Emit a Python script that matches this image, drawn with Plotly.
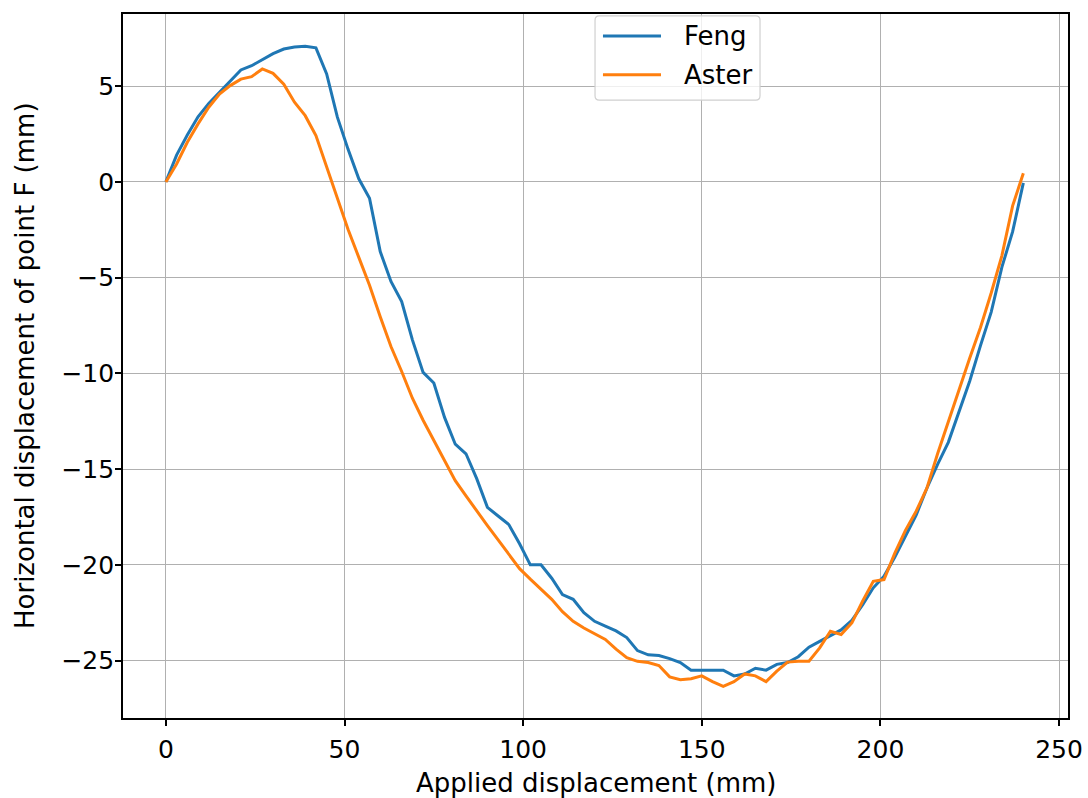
import plotly.graph_objects as go

applied = [i * 3 for i in range(81)]

feng = [0.0, 1.4, 2.45, 3.4, 4.1, 4.7, 5.25, 5.85, 6.07, 6.38, 6.7, 6.94,
        7.05, 7.08, 7.0, 5.64, 3.38, 1.7, 0.16, -0.85, -3.64, -5.2, -6.25, -8.25,
        -9.95, -10.5, -12.3, -13.7, -14.2, -15.5, -17.0, -17.45, -17.9, -18.9, -20.0, -20.0,
        -20.7, -21.55, -21.8, -22.5, -22.95, -23.2, -23.45, -23.8, -24.48, -24.7, -24.74, -24.9,
        -25.1, -25.5, -25.5, -25.5, -25.5, -25.8, -25.7, -25.4, -25.5, -25.2, -25.1, -24.8,
        -24.3, -24.0, -23.7, -23.4, -22.9, -22.1, -21.2, -20.6, -19.6, -18.5, -17.4, -16.0,
        -14.75, -13.6, -12.05, -10.4, -8.55, -6.8, -4.45, -2.6, -0.05]

aster = [0.0, 0.94, 2.07, 3.03, 3.9, 4.59, 5.03, 5.37, 5.5, 5.9, 5.67, 5.1,
         4.16, 3.46, 2.42, 0.8, -0.82, -2.49, -3.94, -5.4, -7.04, -8.6, -9.9, -11.3,
         -12.45, -13.5, -14.6, -15.6, -16.4, -17.2, -17.95, -18.7, -19.45, -20.2, -20.75, -21.3,
         -21.8, -22.45, -22.95, -23.3, -23.6, -23.9, -24.4, -24.85, -25.04, -25.1, -25.26, -25.85,
         -26.0, -25.95, -25.8, -26.1, -26.35, -26.1, -25.7, -25.8, -26.1, -25.55, -25.08, -25.03,
         -25.03, -24.34, -23.47, -23.64, -23.03, -21.9, -20.86, -20.77, -19.4, -18.2, -17.2, -16.0,
         -14.2, -12.5, -10.85, -9.2, -7.6, -5.8, -3.85, -1.25, 0.45]

series_names = ["Feng", "Aster"]
series_colors = ["#1f77b4", "#ff7f0e"]
x_ticks = [0, 50, 100, 150, 200, 250]
y_ticks = [5, 0, -5, -10, -15, -20, -25]
x_title = "Applied displacement (mm)"
y_title = "Horizontal displacement of point F (mm)"

FONT = "DejaVu Sans"
fig = go.Figure()
for name, vals, col in zip(series_names, [feng, aster], series_colors):
    fig.add_trace(go.Scatter(x=applied, y=vals, mode="lines", name=name,
                             line=dict(color=col, width=3), showlegend=False))

axis_common = dict(
    showline=True, linecolor="black", linewidth=1.6, mirror=True,
    showgrid=True, gridcolor="#b0b0b0", gridwidth=1.4,
    ticks="outside", ticklen=6, tickwidth=1.6, tickcolor="black",
    zeroline=False, automargin=False,
    tickfont=dict(family=FONT, size=25, color="black"),
)

# custom legend (matplotlib style) in paper coordinates
bx0, bx1, by0, by1 = 0.4995, 0.6741, 0.8778, 0.9972
rx, ry = 0.0045, 0.0062
legend_path = (f"M{bx0+rx},{by0} L{bx1-rx},{by0} Q{bx1},{by0} {bx1},{by0+ry} "
               f"L{bx1},{by1-ry} Q{bx1},{by1} {bx1-rx},{by1} L{bx0+rx},{by1} "
               f"Q{bx0},{by1} {bx0},{by1-ry} L{bx0},{by0+ry} Q{bx0},{by0} {bx0+rx},{by0} Z")
shapes = [dict(type="path", xref="paper", yref="paper", path=legend_path,
               fillcolor="rgba(255,255,255,0.8)", line=dict(color="#d0d0d0", width=1.2),
               layer="above")]
annotations = []
entry_y = [0.9688, 0.9138]
for name, col, ey in zip(series_names, series_colors, entry_y):
    shapes.append(dict(type="line", xref="paper", yref="paper", x0=0.5079, x1=0.5693,
                       y0=ey, y1=ey, line=dict(color=col, width=3), layer="above"))
    annotations.append(dict(text=name, xref="paper", yref="paper", x=0.5915, y=ey,
                            xanchor="left", yanchor="middle", showarrow=False,
                            font=dict(family=FONT, size=26, color="black")))

annotations += [
    dict(text=x_title, xref="paper", yref="paper", x=0.5, y=-0.0923,
         xanchor="center", yanchor="middle", showarrow=False,
         font=dict(family=FONT, size=26, color="black")),
    dict(text=y_title, xref="paper", yref="paper", x=-0.1037, y=0.5,
         xanchor="center", yanchor="middle", showarrow=False, textangle=-90,
         font=dict(family=FONT, size=26, color="black")),
]

fig.update_layout(
    width=1088, height=798,
    margin=dict(l=123, r=20, t=14, b=80, autoexpand=False),
    paper_bgcolor="white", plot_bgcolor="white",
    font=dict(family=FONT, size=25, color="black"),
    showlegend=False,
    xaxis=dict(range=[-12, 252.5], tickvals=x_ticks, ticklabelstandoff=2, **axis_common),
    yaxis=dict(range=[-28.0, 8.77], tickvals=y_ticks, ticklabelstandoff=-4, **axis_common),
    shapes=shapes,
    annotations=annotations,
)

fig.write_html("out.html", config={"displayModeBar": False},
               post_script="document.body.style.margin='0';document.body.style.overflow='hidden';")
